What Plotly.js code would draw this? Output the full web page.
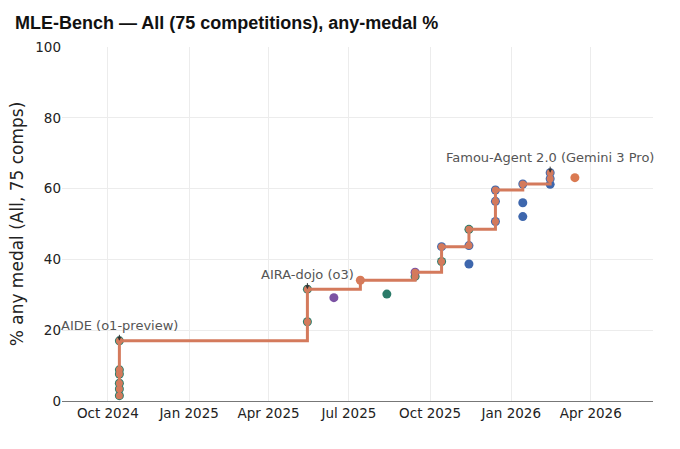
<!DOCTYPE html>
<html>
<head>
<meta charset="utf-8">
<script src="https://cdn.plot.ly/plotly-3.0.1.min.js"></script>
<style>html,body{margin:0;padding:0;background:#fff;}#chart{width:680px;height:449px;}</style>
</head>
<body>
<div id="chart"></div>
<script>
// ---- data ----
const dates = [
  '2024-10-14','2024-10-14','2024-10-14','2024-10-14','2024-10-14','2024-10-14',
  '2025-05-15','2025-05-15',
  '2025-06-14',
  '2025-07-14',
  '2025-08-13',
  '2025-09-14','2025-09-14',
  '2025-10-14','2025-10-14',
  '2025-11-14','2025-11-14','2025-11-14',
  '2025-12-14','2025-12-14','2025-12-14',
  '2026-01-14','2026-01-14','2026-01-14',
  '2026-02-14','2026-02-14','2026-02-14',
  '2026-03-14'
];
const scores = [
  1.5, 3.4, 5.0, 7.6, 8.8, 17.0,
  22.4, 31.6,
  29.2,
  34.1,
  30.2,
  35.2, 36.4,
  39.4, 43.6,
  38.7, 43.9, 48.5,
  50.7, 56.4, 59.6,
  52.1, 56.0, 61.3,
  61.2, 62.8, 64.5,
  63.1
];
const groups = [
  'teal','teal','teal','teal','teal','teal',
  'teal','teal',
  'purple',
  'orange',
  'teal',
  'teal','purple',
  'teal','blue',
  'blue','blue','teal',
  'blue','blue','blue',
  'blue','blue','blue',
  'blue','blue','blue',
  'orange'
];
const labelDates  = ['2024-10-14', '2025-05-15', '2026-02-14'];
const labelScores = [17.0, 31.6, 64.5];
const labelTexts  = ['AIDE (o1-preview)', 'AIRA-dojo (o3)', 'Famou-Agent 2.0 (Gemini 3 Pro)'];

// ---- styling ----
const groupColors = {teal:'#2b7b69', purple:'#7b52a3', orange:'#da7a52', blue:'#3e67ad'};
const frontierColor = '#d47a5c';

// ---- frontier (running best) ----
const idx = dates.map((d,i)=>i).sort((a,b)=> (dates[a]<dates[b]?-1:dates[a]>dates[b]?1:scores[a]-scores[b]));
const fx = [], fy = [];
let best = -Infinity;
idx.forEach(i => { if (scores[i] > best) { best = scores[i]; fx.push(dates[i]); fy.push(scores[i]); } });

const traces = [];
Object.keys(groupColors).forEach(g => {
  const xs = [], ys = [];
  dates.forEach((d,i)=>{ if (groups[i]===g) { xs.push(d); ys.push(scores[i]); } });
  traces.push({x: xs, y: ys, type:'scatter', mode:'markers', name:g,
    marker:{size:9, color:groupColors[g]}, showlegend:false, hoverinfo:'skip'});
});
traces.push({x: fx, y: fy, type:'scatter', mode:'lines+markers', line:{shape:'hv', width:3, color:frontierColor},
  marker:{size:7, color:frontierColor}, showlegend:false, hoverinfo:'skip'});

const tickFont = {family:'"DejaVu Sans", Verdana, sans-serif', size:13.5, color:'#222'};

const layout = {
  width:680, height:449,
  margin:{l:62, r:27, t:47, b:48},
  paper_bgcolor:'#fff', plot_bgcolor:'#fff',
  title:{text:'MLE-Bench — All (75 competitions), any-medal %',
    font:{family:'"Liberation Sans", Arial, Helvetica, sans-serif', size:18, color:'#111', weight:'bold'},
    x:0.022, xanchor:'left', y:0.95, yanchor:'middle'},
  xaxis:{type:'date', range:['2024-08-10','2026-06-10 12:00'],
    tickvals:['2024-10-01','2025-01-01','2025-04-01','2025-07-01','2025-10-01','2026-01-01','2026-04-01'],
    ticktext:['Oct 2024','Jan 2025','Apr 2025','Jul 2025','Oct 2025','Jan 2026','Apr 2026'],
    showgrid:true, gridcolor:'#ececec', zeroline:false,
    showline:true, linecolor:'#777', linewidth:1, ticks:'', tickfont:tickFont},
  yaxis:{range:[0,100], tickvals:[0,20,40,60,80,100], showgrid:true, gridcolor:'#ececec',
    zeroline:false, showline:false, ticks:'', tickfont:tickFont,
    title:{text:'% any medal (All, 75 comps)', font:{family:'"DejaVu Sans", Verdana, sans-serif', size:17, color:'#222'}, standoff:7}},
  annotations: labelTexts.map((t,i)=>({x:labelDates[i], y:labelScores[i], xref:'x', yref:'y', text:t,
    showarrow:true, ax:0, ay:-15, arrowhead:2, arrowsize:0.8, arrowwidth:1, arrowcolor:'#333',
    font:{family:'"DejaVu Sans", Verdana, sans-serif', size:13, color:'#555'}}))
};

Plotly.newPlot('chart', traces, layout, {displayModeBar:false, staticPlot:true});
</script>
</body>
</html>
